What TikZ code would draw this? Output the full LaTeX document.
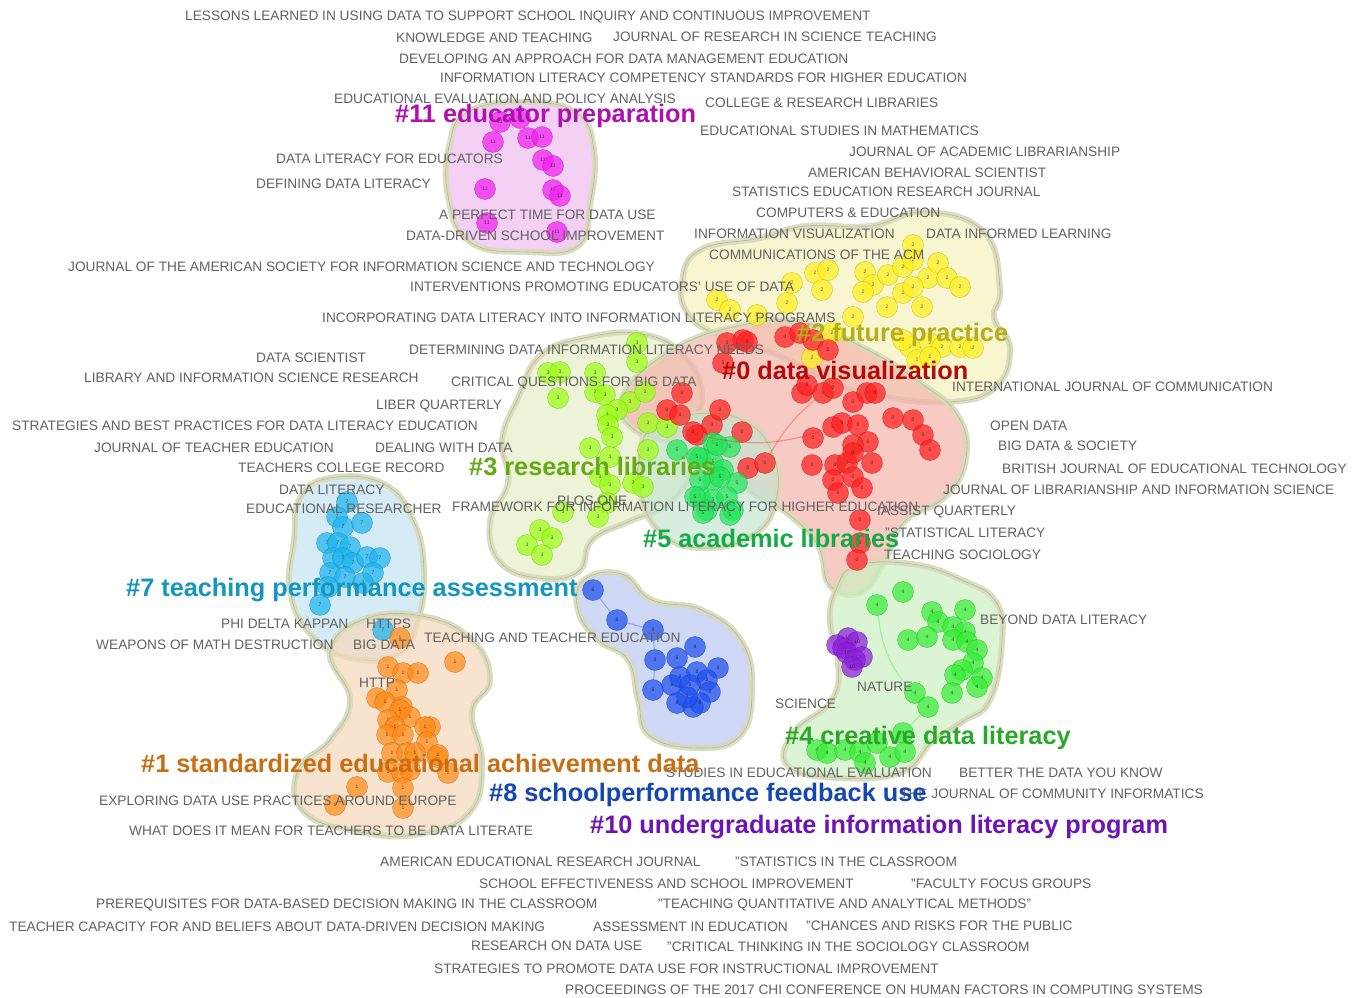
\documentclass[tikz,border=0pt]{standalone}
\usepackage{fontspec}
\setmainfont{Liberation Sans}
\definecolor{refgray}{HTML}{626262}
\definecolor{rim}{HTML}{D8DABA}
\definecolor{rimline}{HTML}{B3BA9C}
\definecolor{k0}{HTML}{FF2020}\definecolor{t0}{HTML}{B40A0A}\definecolor{b0}{HTML}{F4B4AC}
\definecolor{k1}{HTML}{FF8C1A}\definecolor{t1}{HTML}{C86E14}\definecolor{b1}{HTML}{F6D8BC}
\definecolor{k2}{HTML}{FFF01E}\definecolor{t2}{HTML}{B4AF14}\definecolor{b2}{HTML}{F6F2BE}
\definecolor{k3}{HTML}{9CFF14}\definecolor{t3}{HTML}{64AA14}\definecolor{b3}{HTML}{E6EEC6}
\definecolor{k4}{HTML}{36EE36}\definecolor{t4}{HTML}{28AA28}\definecolor{b4}{HTML}{CCF0C2}
\definecolor{k5}{HTML}{22E65A}\definecolor{t5}{HTML}{14AA46}\definecolor{b5}{HTML}{C6E6D2}
\definecolor{k7}{HTML}{1EB4F0}\definecolor{t7}{HTML}{1496BE}\definecolor{b7}{HTML}{C4E4F4}
\definecolor{k8}{HTML}{1E50F0}\definecolor{t8}{HTML}{1446B4}\definecolor{b8}{HTML}{BCC8F0}
\definecolor{k10}{HTML}{8C1EDC}\definecolor{t10}{HTML}{6E14B4}
\definecolor{k11}{HTML}{F01EF0}\definecolor{t11}{HTML}{B010B0}\definecolor{b11}{HTML}{F0BEF0}
\tikzset{
  ref/.style={anchor=west, inner sep=0pt, text=refgray, font=\fontsize{13.7}{14}\selectfont},
  clus/.style={anchor=west, inner sep=0pt, text=#1, font=\fontsize{25.3}{26}\selectfont\bfseries},
  member/.style={circle, minimum size=21pt, inner sep=0pt, fill=#1, draw=#1!75!black,
    fill opacity=0.72, draw opacity=0.7, text opacity=0.6, text=black,
    font=\fontsize{5}{5}\selectfont},
  blob/.style={fill=#1, fill opacity=0.7, draw=rim, line width=6pt, draw opacity=0.9},
  blobline/.style={draw=rimline, line width=0.6pt},
  link/.style={draw=#1, line width=1.2pt, opacity=0.35}
}
\newcommand{\members}[4]{%
  \foreach \p [count=\k] in {#4} \node[member=#1] (#3-\k) at \p {#2};}
\newcommand{\blob}[2]{%
  \path[blob=#1] plot[smooth cycle, tension=0.75] coordinates {#2};
  \path[blobline] plot[smooth cycle, tension=0.75] coordinates {#2};}

\begin{document}
\begin{tikzpicture}[x=1pt, y=-1pt]
\useasboundingbox (0,0) rectangle (1358,998);
\fill[white] (0,0) rectangle (1358,998);

\blob{b11}{(468,112) (520,102) (575,112) (594,150) (590,205) (578,246) (528,252) (470,242) (448,196) (450,142)}
\blob{b2}{(682,282) (700,250) (760,238) (806,226) (870,226) (925,212) (984,232) (1000,288) (994,318) (1010,348) (995,388) (948,402) (880,396) (836,384) (780,356) (720,336) (688,314)}
\blob{b3}{(540,356) (584,338) (642,334) (684,356) (702,398) (684,438) (690,472) (668,504) (628,522) (592,540) (578,572) (538,578) (500,562) (490,522) (508,482) (502,440) (518,398)}
\blob{b0}{(624,394) (672,350) (738,326) (800,322) (864,348) (922,384) (958,416) (966,458) (946,496) (904,522) (886,558) (862,592) (830,586) (818,546) (788,514) (754,494) (726,470) (680,446) (632,428)}
\blob{b5}{(652,428) (694,414) (742,420) (772,452) (776,500) (752,536) (700,548) (660,532) (640,492) (640,456)}
\blob{b7}{(300,498) (330,478) (384,484) (414,522) (424,572) (418,620) (398,654) (350,658) (310,634) (290,590) (294,540)}
\blob{b1}{(330,652) (362,620) (422,616) (472,640) (490,680) (472,712) (482,762) (470,812) (420,834) (360,832) (304,812) (298,770) (330,740) (350,700)}
\blob{b8}{(584,580) (622,574) (652,600) (702,610) (742,642) (752,692) (740,736) (700,748) (650,736) (638,700) (628,660) (598,640) (578,610)}
\blob{b4}{(836,590) (856,566) (912,564) (962,580) (996,602) (1002,642) (990,700) (962,722) (932,742) (902,772) (840,778) (788,766) (794,732) (832,700) (838,660) (830,622)}

\members{k11}{11}{m}{(500,122),(520,118),(493,142),(528,138),(542,137),(543,160),(553,166),(485,189),(553,190),(560,196),(487,223),(557,232)}
\members{k2}{2}{y}{(913,245),(815,273),(828,270),(822,290),(792,283),(787,303),(717,300),(730,310),(757,315),(853,317),(865,272),(873,285),(888,275),(903,267),(913,260),(928,278),(938,263),(947,278),(960,287),(863,292),(887,307),(903,293),(913,287),(922,307),(910,347),(930,343),(942,347),(960,347),(973,348),(917,360),(930,357),(812,358),(832,333),(903,340)}
\members{k3}{3}{g}{(637,343),(637,362),(548,373),(560,372),(558,398),(595,373),(595,392),(605,395),(630,402),(617,410),(607,415),(608,425),(612,437),(590,448),(610,457),(648,450),(645,392),(648,423),(600,477),(610,485),(633,483),(643,487),(607,503),(598,517),(563,512),(540,530),(552,538),(527,545),(542,555),(667,427)}
\members{k0}{0}{r}{(785,337),(800,333),(813,340),(828,350),(723,363),(743,340),(727,343),(747,342),(682,393),(667,410),(680,415),(697,435),(712,425),(720,410),(742,432),(748,468),(765,463),(802,393),(807,385),(823,393),(833,388),(853,402),(867,393),(875,393),(893,418),(913,420),(923,435),(930,450),(813,438),(833,427),(842,423),(858,425),(868,442),(853,445),(812,465),(835,465),(847,463),(853,453),(872,463),(833,480),(853,477),(862,488),(838,493),(860,520),(860,543),(857,560),(693,432)}
\members{k5}{5}{a}{(713,443),(730,447),(700,458),(713,462),(723,470),(737,483),(713,480),(700,497),(713,500),(727,497),(733,510),(707,510),(677,450),(697,457),(717,445),(700,480),(720,477),(695,497),(703,513),(730,515)}
\members{k7}{7}{c}{(347,502),(337,517),(343,527),(362,523),(327,543),(338,543),(350,547),(333,558),(343,558),(353,563),(367,557),(380,558),(373,573),(330,573),(345,577),(328,587),(320,605),(363,583),(383,630)}
\members{k1}{1}{o}{(400,638),(388,667),(403,673),(418,673),(455,662),(397,690),(377,698),(385,702),(402,707),(400,710),(410,717),(388,720),(430,727),(395,727),(425,727),(387,735),(403,735),(427,742),(392,753),(407,753),(415,753),(437,757),(438,755),(388,772),(402,773),(410,770),(448,773),(357,787),(403,788),(335,805),(403,808)}
\members{k8}{8}{b}{(593,590),(617,620),(653,630),(655,660),(677,658),(695,647),(718,668),(653,690),(672,685),(680,677),(697,672),(707,680),(690,685),(710,692),(677,703),(693,707),(700,703),(687,697)}
\members{k4}{4}{e}{(903,592),(877,605),(965,610),(932,612),(938,622),(953,627),(965,632),(908,640),(927,637),(953,640),(967,642),(977,650),(973,663),(962,670),(955,675),(982,678),(977,687),(915,693),(952,693),(928,707),(903,733),(817,750),(827,753),(845,750),(860,752),(865,763),(877,743),(890,757),(905,752)}
\members{k10}{10}{p}{(837,645),(848,638),(857,642),(843,648),(847,653),(862,657),(855,660),(852,667)}

\draw[link=k8] (b-1) -- (b-2) -- (b-3) -- (b-4) -- (b-8);
\draw[link=k0] (r-17) to[bend left=10] (r-20);
\draw[link=k0] (r-12) to[bend right=15] (r-30);
\draw[link=k4] (e-2) to[bend right=20] (e-20);
\draw[link=k4] (e-21) -- (e-20);

\node[ref] (l1) at (185,17) {LESSONS LEARNED IN USING DATA TO SUPPORT SCHOOL INQUIRY AND CONTINUOUS IMPROVEMENT};
\node[ref] (l2) at (396,38) {KNOWLEDGE AND TEACHING};
\node[ref] (l3) at (613,37) {JOURNAL OF RESEARCH IN SCIENCE TEACHING};
\node[ref] (l4) at (399,59) {DEVELOPING AN APPROACH FOR DATA MANAGEMENT EDUCATION};
\node[ref] (l5) at (440,78) {INFORMATION LITERACY COMPETENCY STANDARDS FOR HIGHER EDUCATION};
\node[ref] (l6) at (334,99) {EDUCATIONAL EVALUATION AND POLICY ANALYSIS};
\node[ref] (l7) at (705,103) {COLLEGE \& RESEARCH LIBRARIES};
\node[ref] (l8) at (700,131) {EDUCATIONAL STUDIES IN MATHEMATICS};
\node[ref] (l9) at (849,152) {JOURNAL OF ACADEMIC LIBRARIANSHIP};
\node[ref] (l10) at (276,159) {DATA LITERACY FOR EDUCATORS};
\node[ref] (l11) at (808,173) {AMERICAN BEHAVIORAL SCIENTIST};
\node[ref] (l12) at (256,184) {DEFINING DATA LITERACY};
\node[ref] (l13) at (732,192) {STATISTICS EDUCATION RESEARCH JOURNAL};
\node[ref] (l14) at (439,215) {A PERFECT TIME FOR DATA USE};
\node[ref] (l15) at (756,213) {COMPUTERS \& EDUCATION};
\node[ref] (l16) at (406,236) {DATA-DRIVEN SCHOOL IMPROVEMENT};
\node[ref] (l17) at (694,234) {INFORMATION VISUALIZATION};
\node[ref] (l18) at (926,234) {DATA INFORMED LEARNING};
\node[ref] (l19) at (709,255) {COMMUNICATIONS OF THE ACM};
\node[ref] (l20) at (68,267) {JOURNAL OF THE AMERICAN SOCIETY FOR INFORMATION SCIENCE AND TECHNOLOGY};
\node[ref] (l21) at (410,287) {INTERVENTIONS PROMOTING EDUCATORS’ USE OF DATA};
\node[ref] (l22) at (322,318) {INCORPORATING DATA LITERACY INTO INFORMATION LITERACY PROGRAMS};
\node[ref] (l23) at (256,358) {DATA SCIENTIST};
\node[ref] (l24) at (409,350) {DETERMINING DATA INFORMATION LITERACY NEEDS};
\node[ref] (l25) at (84,378) {LIBRARY AND INFORMATION SCIENCE RESEARCH};
\node[ref] (l26) at (451,383) {CRITICAL QUESTIONS FOR BIG DATA};
\node[ref] (l27) at (952,387) {INTERNATIONAL JOURNAL OF COMMUNICATION};
\node[ref] (l28) at (376,406) {LIBER QUARTERLY};
\node[ref] (l29) at (12,426) {STRATEGIES AND BEST PRACTICES FOR DATA LITERACY EDUCATION};
\node[ref] (l30) at (990,426) {OPEN DATA};
\node[ref] (l31) at (94,448) {JOURNAL OF TEACHER EDUCATION};
\node[ref] (l32) at (375,448) {DEALING WITH DATA};
\node[ref] (l33) at (998,446) {BIG DATA \& SOCIETY};
\node[ref] (l34) at (238,468) {TEACHERS COLLEGE RECORD};
\node[ref] (l35) at (1002,469) {BRITISH JOURNAL OF EDUCATIONAL TECHNOLOGY};
\node[ref] (l36) at (279,490) {DATA LITERACY};
\node[ref] (l37) at (943,490) {JOURNAL OF LIBRARIANSHIP AND INFORMATION SCIENCE};
\node[ref] (l38) at (557,501) {PLOS ONE};
\node[ref] (l39) at (246,509) {EDUCATIONAL RESEARCHER};
\node[ref] (l40) at (452,507) {FRAMEWORK FOR INFORMATION LITERACY FOR HIGHER EDUCATION};
\node[ref] (l41) at (877,512) {IASSIST QUARTERLY};
\node[ref] (l42) at (885,533) {"STATISTICAL LITERACY};
\node[ref] (l43) at (884,555) {TEACHING SOCIOLOGY};
\node[ref] (l44) at (980,620) {BEYOND DATA LITERACY};
\node[ref] (l45) at (221,624) {PHI DELTA KAPPAN};
\node[ref] (l46) at (366,624) {HTTPS};
\node[ref] (l47) at (424,638) {TEACHING AND TEACHER EDUCATION};
\node[ref] (l48) at (96,645) {WEAPONS OF MATH DESTRUCTION};
\node[ref] (l49) at (353,645) {BIG DATA};
\node[ref] (l50) at (359,683) {HTTP};
\node[ref] (l51) at (857,687) {NATURE};
\node[ref] (l52) at (775,704) {SCIENCE};
\node[ref] (l53) at (666,773) {STUDIES IN EDUCATIONAL EVALUATION};
\node[ref] (l54) at (959,773) {BETTER THE DATA YOU KNOW};
\node[ref] (l55) at (99,801) {EXPLORING DATA USE PRACTICES AROUND EUROPE};
\node[ref] (l56) at (900,794) {THE JOURNAL OF COMMUNITY INFORMATICS};
\node[ref] (l57) at (129,831) {WHAT DOES IT MEAN FOR TEACHERS TO BE DATA LITERATE};
\node[ref] (l58) at (380,862) {AMERICAN EDUCATIONAL RESEARCH JOURNAL};
\node[ref] (l59) at (735,862) {"STATISTICS IN THE CLASSROOM};
\node[ref] (l60) at (479,884) {SCHOOL EFFECTIVENESS AND SCHOOL IMPROVEMENT};
\node[ref] (l61) at (911,884) {"FACULTY FOCUS GROUPS};
\node[ref] (l62) at (96,905) {PREREQUISITES FOR DATA-BASED DECISION MAKING IN THE CLASSROOM};
\node[ref] (l63) at (658,905) {"TEACHING QUANTITATIVE AND ANALYTICAL METHODS"};
\node[ref] (l64) at (9,927) {TEACHER CAPACITY FOR AND BELIEFS ABOUT DATA-DRIVEN DECISION MAKING};
\node[ref] (l65) at (593,927) {ASSESSMENT IN EDUCATION};
\node[ref] (l66) at (806,926) {"CHANCES AND RISKS FOR THE PUBLIC};
\node[ref] (l67) at (471,946) {RESEARCH ON DATA USE};
\node[ref] (l68) at (667,947) {"CRITICAL THINKING IN THE SOCIOLOGY CLASSROOM};
\node[ref] (l69) at (434,969) {STRATEGIES TO PROMOTE DATA USE FOR INSTRUCTIONAL IMPROVEMENT};
\node[ref] (l70) at (565,990) {PROCEEDINGS OF THE 2017 CHI CONFERENCE ON HUMAN FACTORS IN COMPUTING SYSTEMS};

\node[clus=t11] (c11) at (395,116) {\#11 educator preparation};
\node[clus=t2] (c2) at (797,335) {\#2 future practice};
\node[clus=t0] (c0) at (722,370) {\#0 data visualization};
\node[clus=t3] (c3) at (469,466) {\#3 research libraries};
\node[clus=t5] (c5) at (643,538) {\#5 academic libraries};
\node[clus=t7] (c7) at (126,590) {\#7 teaching performance assessment};
\node[clus=t1] (c1) at (141,763) {\#1 standardized educational achievement data};
\node[clus=t4] (c4) at (785,738) {\#4 creative data literacy};
\node[clus=t8] (c8) at (489,795) {\#8 schoolperformance feedback use};
\node[clus=t10] (c10) at (590,827) {\#10 undergraduate information literacy program};
\end{tikzpicture}
\end{document}
